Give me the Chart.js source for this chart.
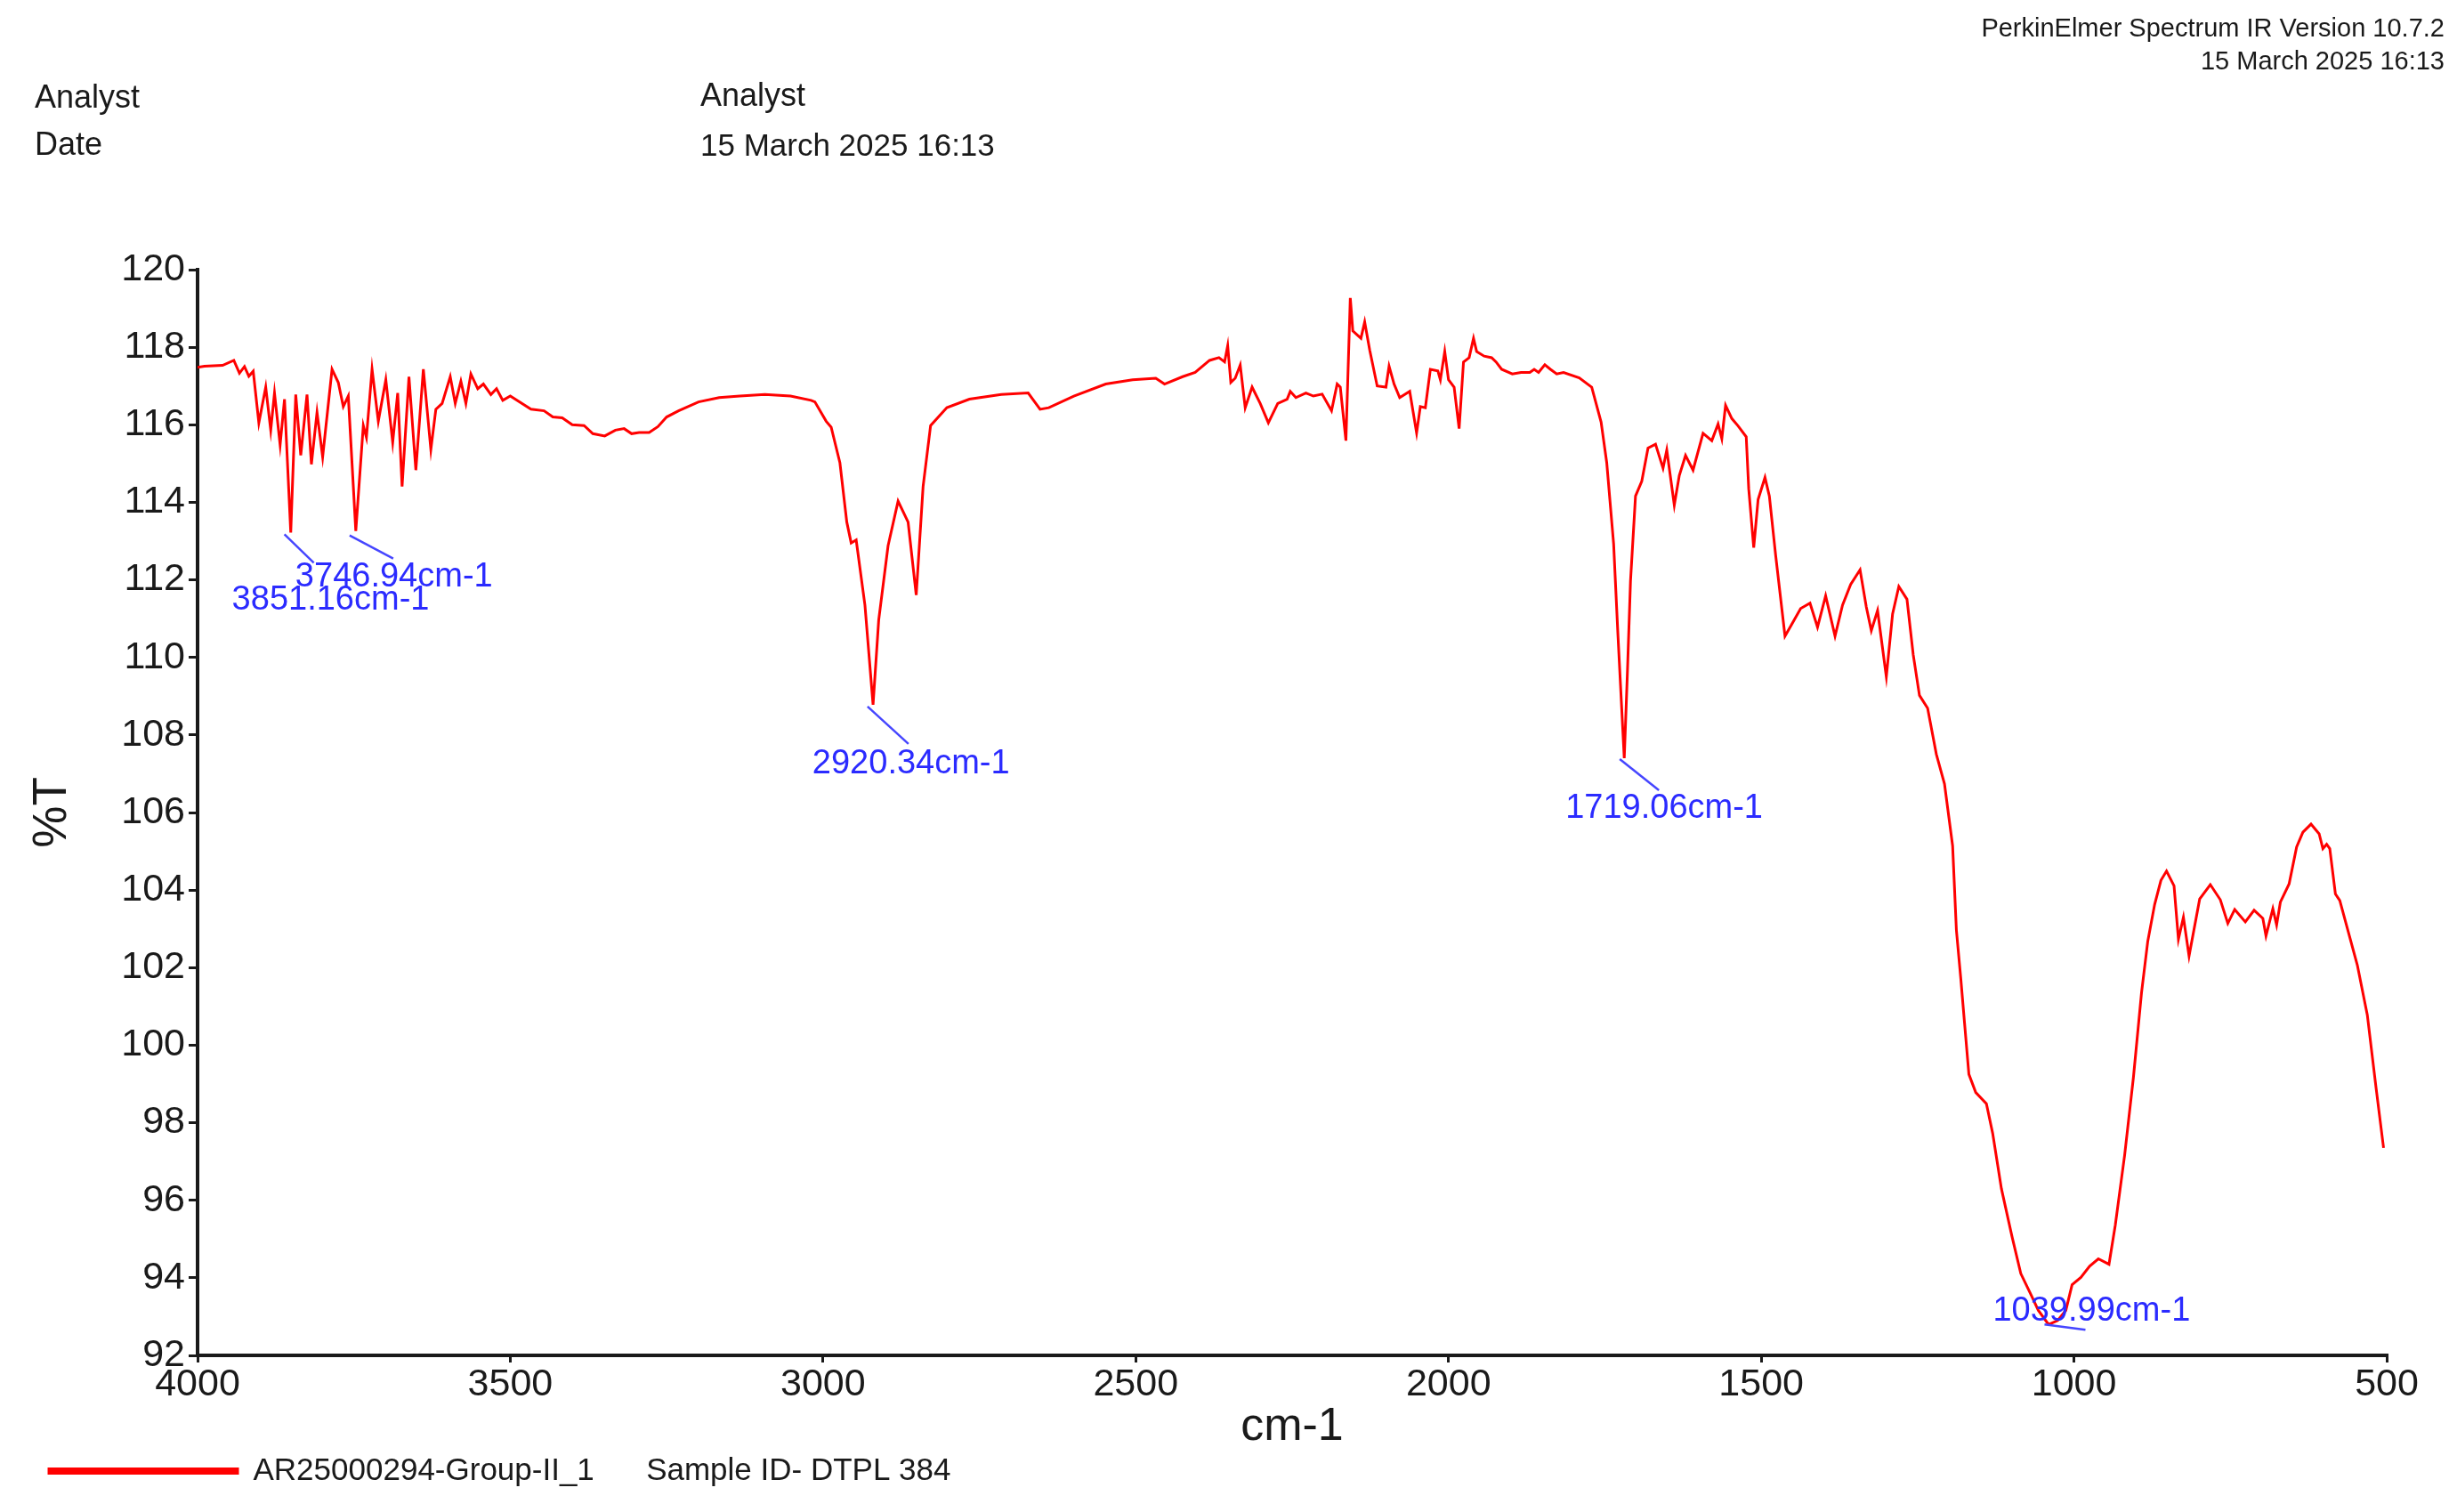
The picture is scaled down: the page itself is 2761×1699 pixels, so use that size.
<!DOCTYPE html>
<html>
<head>
<meta charset="utf-8">
<title>IR spectrum</title>
<script src="https://cdn.jsdelivr.net/npm/chart.js@4.4.1/dist/chart.umd.min.js"></script>
<style>
  html, body { margin: 0; padding: 0; background: #fff; }
  body { width: 2761px; height: 1699px; position: relative; overflow: hidden;
         font-family: "Liberation Sans", Arial, sans-serif; color: #1a1a1a; }
  #chart { position: absolute; left: 0; top: 0; }
  .hdr { position: absolute; white-space: nowrap; line-height: 1; }
</style>
</head>
<body>
<canvas id="chart" width="2761" height="1699"></canvas>
<div class="hdr" style="left:39px; top:91px; font-size:36px">Analyst</div>
<div class="hdr" style="left:39px; top:144px; font-size:36px">Date</div>
<div class="hdr" style="left:787px; top:89px; font-size:36px">Analyst</div>
<div class="hdr" style="left:787px; top:145px; font-size:35px">15 March 2025 16:13</div>
<div class="hdr" style="right:14px; top:17px; font-size:29px">PerkinElmer Spectrum IR Version 10.7.2</div>
<div class="hdr" style="right:14px; top:54px; font-size:29px">15 March 2025 16:13</div>
<script>
'use strict';

// spectrum (cm-1, %T)
var wavenumbers = [
  4000, 3989, 3960, 3942, 3933, 3925, 3918, 3911, 3902, 3891, 3883, 3877, 3868, 3861, 3851,
  3843, 3835, 3825, 3818, 3809, 3800, 3785, 3775, 3767, 3759, 3747, 3735, 3730, 3721, 3711,
  3699, 3688, 3680, 3673, 3662, 3651, 3639, 3627, 3619, 3609, 3596, 3588, 3579, 3571, 3563,
  3552, 3543, 3531, 3522, 3512, 3500, 3467, 3446, 3432, 3417, 3401, 3382, 3368, 3349, 3332,
  3318, 3306, 3294, 3278, 3264, 3250, 3231, 3199, 3166, 3133, 3093, 3052, 3019, 3013, 2995,
  2987, 2973, 2962, 2955, 2947, 2933, 2920, 2911, 2896, 2880, 2864, 2851, 2840, 2828, 2802,
  2766, 2715, 2672, 2653, 2639, 2599, 2548, 2505, 2468, 2454, 2425, 2405, 2382, 2367, 2358,
  2353, 2348, 2341, 2333, 2325, 2314, 2301, 2288, 2273, 2258, 2253, 2244, 2228, 2216, 2202,
  2187, 2178, 2173, 2164, 2157, 2153, 2140, 2134, 2126, 2114, 2100, 2095, 2087, 2078, 2062,
  2051, 2045, 2037, 2029, 2017, 2013, 2006, 2000, 1991, 1983, 1976, 1967, 1960, 1955, 1943,
  1931, 1924, 1915, 1898, 1884, 1870, 1863, 1856, 1846, 1837, 1827, 1816, 1791, 1771, 1756,
  1747, 1736, 1729, 1719, 1714, 1709, 1701, 1691, 1681, 1669, 1657, 1651, 1639, 1631, 1621,
  1609, 1593, 1579, 1569, 1563, 1557, 1547, 1537, 1524, 1520, 1512, 1505, 1494, 1487, 1477,
  1462, 1452, 1437, 1422, 1410, 1397, 1382, 1370, 1357, 1342, 1332, 1324, 1314, 1300, 1290,
  1280, 1267, 1257, 1247, 1234, 1220, 1207, 1194, 1188, 1181, 1175, 1168, 1157, 1140, 1130,
  1116, 1099, 1085, 1068, 1057, 1043, 1040, 1026, 1013, 1003, 989, 975, 961, 944, 934,
  919, 905, 892, 882, 871, 861, 852, 840, 833, 825, 816, 799, 782, 766, 754,
  743, 726, 712, 698, 693, 682, 676, 670, 656, 644, 634, 621, 608, 602, 596,
  591, 582, 575, 547, 531, 517, 505
];
var transmittance = [
  117.48, 117.51, 117.53, 117.66, 117.33, 117.50, 117.25, 117.38, 116.05, 116.97, 115.86, 116.82, 115.48, 116.66, 113.22,
  116.78, 115.21, 116.78, 114.98, 116.32, 115.17, 117.43, 117.09, 116.47, 116.74, 113.26, 115.98, 115.67, 117.43, 116.09,
  117.16, 115.55, 116.82, 114.41, 117.24, 114.83, 117.43, 115.36, 116.40, 116.55, 117.24, 116.55, 117.12, 116.55, 117.31,
  116.93, 117.05, 116.78, 116.93, 116.63, 116.74, 116.40, 116.36, 116.20, 116.18, 116.00, 115.98, 115.77, 115.71, 115.86,
  115.90, 115.77, 115.80, 115.80, 115.95, 116.20, 116.36, 116.59, 116.70, 116.74, 116.78, 116.74, 116.63, 116.59, 116.09,
  115.94, 115.02, 113.49, 112.95, 113.03, 111.35, 108.78, 110.96, 112.88, 114.03, 113.49, 111.61, 114.41, 115.98, 116.44,
  116.66, 116.78, 116.82, 116.40, 116.44, 116.74, 117.05, 117.16, 117.20, 117.05, 117.24, 117.35, 117.66, 117.73, 117.62,
  118.04, 117.09, 117.20, 117.54, 116.44, 116.97, 116.55, 116.05, 116.55, 116.66, 116.86, 116.70, 116.82, 116.74, 116.79,
  116.36, 117.05, 116.97, 115.59, 119.27, 118.42, 118.23, 118.65, 117.93, 117.00, 116.97, 117.51, 117.05, 116.70, 116.86,
  115.79, 116.47, 116.44, 117.43, 117.39, 117.16, 117.89, 117.16, 116.97, 115.90, 117.62, 117.73, 118.23, 117.89, 117.77,
  117.73, 117.62, 117.43, 117.31, 117.35, 117.35, 117.43, 117.35, 117.55, 117.43, 117.31, 117.35, 117.21, 116.97, 116.07,
  115.02, 112.93, 110.55, 107.40, 109.59, 111.97, 114.16, 114.54, 115.40, 115.50, 114.88, 115.35, 113.93, 114.69, 115.21,
  114.83, 115.78, 115.59, 116.02, 115.64, 116.50, 116.16, 115.97, 115.69, 114.35, 112.83, 114.07, 114.64, 114.16, 112.64,
  110.55, 110.83, 111.26, 111.40, 110.78, 111.59, 110.55, 111.35, 111.88, 112.26, 111.30, 110.69, 111.21, 109.50, 111.12,
  111.83, 111.50, 110.07, 109.02, 108.69, 107.50, 106.74, 105.14, 102.97, 101.73, 100.58, 99.25, 98.78, 98.49, 97.73,
  96.30, 95.06, 94.11, 93.54, 93.16, 92.85, 92.80, 92.90, 93.16, 93.82, 94.01, 94.30, 94.49, 94.35, 95.35,
  97.16, 99.16, 101.35, 102.68, 103.63, 104.25, 104.49, 104.11, 102.73, 103.30, 102.30, 103.77, 104.14, 103.75, 103.14,
  103.50, 103.18, 103.48, 103.27, 102.82, 103.52, 103.10, 103.69, 104.16, 105.11, 105.49, 105.70, 105.45, 105.07, 105.18,
  105.07, 103.90, 103.73, 102.07, 100.78, 98.90, 97.35
];

// labelled peaks
var peakWavenumbers = [3851.16, 3746.94, 2920.34, 1719.06, 1039.99];
var peakValues = [113.22, 113.26, 108.78, 107.40, 92.80];
var peakLabels = ['3851.16cm-1', '3746.94cm-1', '2920.34cm-1', '1719.06cm-1', '1039.99cm-1'];

var xTickValues = [4000, 3500, 3000, 2500, 2000, 1500, 1000, 500];
var yTickValues = [92, 94, 96, 98, 100, 102, 104, 106, 108, 110, 112, 114, 116, 118, 120];

var seriesLabel = 'AR25000294-Group-II_1      Sample ID- DTPL 384';

var ink = '#1a1a1a';
var fontFamily = '"Liberation Sans", Arial, sans-serif';

// leader line start/end and text anchor, in pixels from the peak point
var labelOffsets = [
  [-7, 2, 26, 34, -66, 76],
  [-7, 5, 42, 31, -68, 52],
  [-6, 2, 40, 44, -68, 67],
  [-5, 1, 39, 36, -66, 57],
  [-5, 0, 41, 6, -63, -15]
];

var peakLabelPlugin = {
  id: 'peakLabels',
  afterDatasetsDraw: function(chart) {
    var ctx = chart.ctx;
    var xs = chart.scales.x;
    var ys = chart.scales.y;
    ctx.save();
    ctx.strokeStyle = '#4646ff';
    ctx.lineWidth = 2.5;
    ctx.fillStyle = '#2b2bff';
    ctx.font = '38px ' + fontFamily;
    ctx.textBaseline = 'middle';
    ctx.textAlign = 'left';
    peakWavenumbers.forEach(function(w, i) {
      var px = xs.getPixelForValue(w);
      var py = ys.getPixelForValue(peakValues[i]);
      var o = labelOffsets[i];
      ctx.beginPath();
      ctx.moveTo(px + o[0], py + o[1]);
      ctx.lineTo(px + o[2], py + o[3]);
      ctx.stroke();
      ctx.fillText(peakLabels[i], px + o[4], py + o[5]);
    });
    ctx.restore();
  }
};

var points = wavenumbers.map(function(w, i) {
  return { x: w, y: transmittance[i] };
});

Chart.defaults.font.family = fontFamily;
Chart.defaults.color = ink;

var chart = new Chart(document.getElementById('chart'), {
  type: 'line',
  data: {
    datasets: [{
      label: seriesLabel,
      data: points,
      borderColor: '#ff0000',
      backgroundColor: '#ff0000',
      borderWidth: 3,
      pointRadius: 0,
      tension: 0,
      fill: false
    }]
  },
  options: {
    responsive: false,
    animation: false,
    devicePixelRatio: 1,
    layout: { padding: { left: 20, right: 79, top: 303, bottom: 18.5 } },
    plugins: {
      tooltip: { enabled: false },
      legend: {
        position: 'bottom',
        align: 'start',
        labels: {
          boxWidth: 212,
          boxHeight: 5,
          padding: 35,
          color: ink,
          font: { size: 35 }
        }
      }
    },
    scales: {
      x: {
        type: 'linear',
        reverse: true,
        min: 500,
        max: 4000,
        afterBuildTicks: function(scale) {
          scale.ticks = xTickValues.map(function(v) { return { value: v }; });
        },
        ticks: {
          color: ink,
          font: { size: 43, lineHeight: 1 },
          padding: 4,
          maxRotation: 0,
          autoSkip: false,
          callback: function(v) { return String(v); }
        },
        grid: { drawOnChartArea: false, drawTicks: true, tickLength: 8, color: ink, lineWidth: 3 },
        border: { display: true, color: ink, width: 4 },
        title: {
          display: true,
          text: 'cm-1',
          color: ink,
          font: { size: 52, lineHeight: 1 },
          padding: { top: 0, bottom: -29.5 }
        },
        afterFit: function(scale) { scale.height = 77.5; }
      },
      y: {
        type: 'linear',
        min: 92,
        max: 120,
        afterBuildTicks: function(scale) {
          scale.ticks = yTickValues.map(function(v) { return { value: v }; });
        },
        ticks: {
          color: ink,
          font: { size: 43, lineHeight: 1 },
          padding: 4,
          callback: function(v) { return String(v); }
        },
        grid: { drawOnChartArea: false, drawTicks: true, tickLength: 10, color: ink, lineWidth: 3 },
        border: { display: true, color: ink, width: 4 },
        title: {
          display: true,
          text: '%T',
          color: ink,
          font: { size: 53, lineHeight: 1 },
          padding: { top: 12.5, bottom: 0 }
        },
        afterFit: function(scale) { scale.width = 202; }
      }
    }
  },
  plugins: [peakLabelPlugin]
});
</script>
</body>
</html>
